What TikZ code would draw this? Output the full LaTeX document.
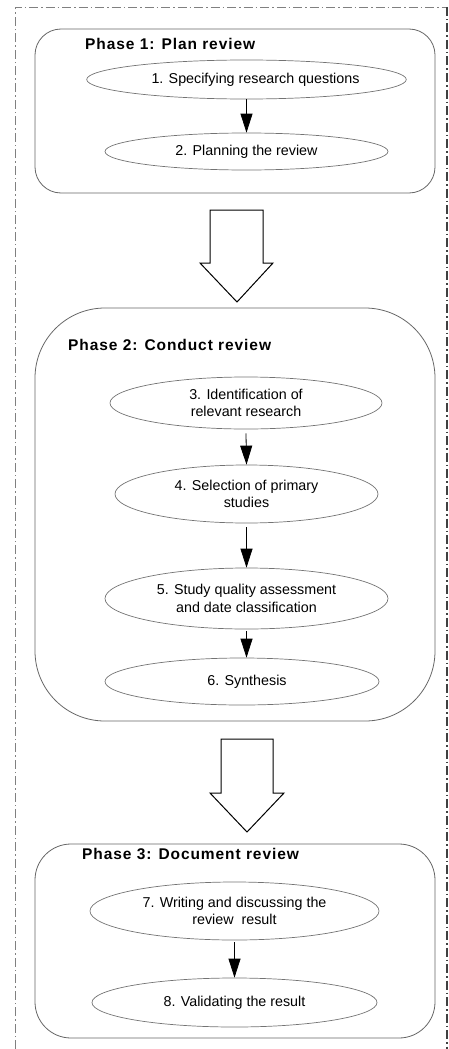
\documentclass[tikz,border=0pt]{standalone}
\usepackage{fontspec}
\setmainfont{Liberation Sans}
\newfontfamily\titlefont[LetterSpace=6]{Liberation Sans}
\usetikzlibrary{shapes.geometric, arrows.meta}

\tikzset{
  phasebox/.style={draw=black!60, line width=0.8pt, inner sep=0pt},
  phasetitle/.style={font=\titlefont\bfseries\fontsize{15.5}{17}\selectfont, anchor=west, inner sep=0pt},
  stepnode/.style={ellipse, draw=black!55, line width=0.7pt, inner sep=0pt, align=center,
                   font=\fontsize{14.3}{17.5}\selectfont},
  flow/.style={-{Triangle[width=12pt,length=19pt]}, line width=0.8pt},
  blockarrow/.style={draw=black, line width=1pt, fill=white, line join=miter},
  frameleft/.style={draw=black!50, line width=0.7pt, dash pattern=on 9pt off 3pt on 1.5pt off 3pt},
  frameright/.style={draw=black!75, line width=1.4pt, dash pattern=on 9pt off 3pt on 1.5pt off 3pt}
}

\begin{document}
\begin{tikzpicture}[x=1pt,y=-1pt]
  \useasboundingbox (0,0) rectangle (449,1049);

  % outer dash-dot frame
  \draw[frameleft] (15,1049) -- (15,7) -- (447,7);
  \draw[frameright] (447,7) -- (447,1049);

  % phase containers
  \node[phasebox, rounded corners=26pt, minimum width=400pt, minimum height=164pt] (p1) at (235,111) {};
  \node[phasebox, rounded corners=70pt, minimum width=400pt, minimum height=413pt] (p2) at (235,514.5) {};
  \node[phasebox, rounded corners=36pt, minimum width=400pt, minimum height=194pt] (p3) at (235,941) {};

  % phase titles
  \node[phasetitle] (t1) at (85,44) {Phase 1: Plan review};
  \node[phasetitle] (t2) at (68,345) {Phase 2: Conduct review};
  \node[phasetitle] (t3) at (82,854) {Phase 3: Document review};

  % steps
  \node[stepnode, minimum width=283pt, minimum height=39pt] (e1) at (246.5,79.5) {\hspace*{18pt}1. Specifying research questions};
  \node[stepnode, minimum width=283pt, minimum height=37pt] (e2) at (246.5,151.5) {2. Planning the review};

  \node[stepnode, minimum width=272pt, minimum height=52pt] (e3) at (246,403) {3. Identification of\\relevant research};
  \node[stepnode, minimum width=263pt, minimum height=58pt] (e4) at (246.5,494) {4. Selection of primary\\studies};
  \node[stepnode, minimum width=283pt, minimum height=61pt] (e5) at (246.5,598.5) {5. Study quality assessment\\and date classification};
  \node[stepnode, minimum width=274pt, minimum height=47pt] (e6) at (242,681.5) {\hspace*{10pt}6. Synthesis};

  \node[stepnode, minimum width=289pt, minimum height=58pt] (e7) at (234.5,911) {7. Writing and discussing the\\review\ \ result};
  \node[stepnode, minimum width=285pt, minimum height=49pt] (e8) at (234.5,1002.5) {8. Validating the result};

  % step connectors
  \draw[flow] (e1.south) -- (e2.north);
  \draw[flow] ([yshift=-4pt]e3.south) -- (e4.north);
  \draw[flow] ([yshift=-4pt]e4.south) -- (e5.north);
  \draw[flow] ([yshift=-2pt]e5.south) -- (e5.south |- e6.north);
  \draw[flow] ([yshift=-2pt]e7.south) -- (e8.north);

  % block arrows between phases
  \draw[blockarrow] (210,210) -- (263,210) -- (263,263) -- (273,263) -- (237,302)
                    -- (200,263) -- (210,263) -- cycle;
  \draw[blockarrow] (221,739) -- (273,739) -- (273,793) -- (284,793) -- (247,832)
                    -- (210,793) -- (221,793) -- cycle;
\end{tikzpicture}
\end{document}
